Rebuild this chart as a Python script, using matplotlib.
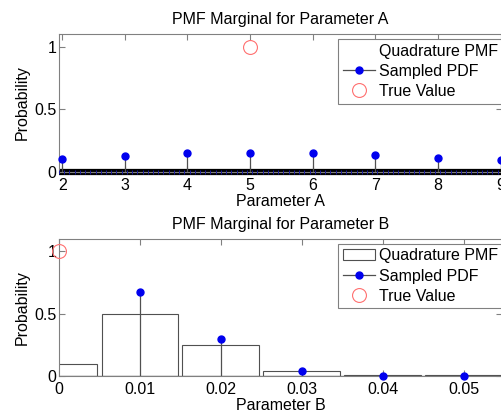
import matplotlib.pyplot as plt
import matplotlib.patches as mpatches
from matplotlib.lines import Line2D
import numpy as np

plt.rcParams['font.family'] = ['Liberation Sans', 'DejaVu Sans']
plt.rcParams['font.size'] = 11.5

# parameter A
a_vals = [2, 3, 4, 5, 6, 7, 8, 9]
a_pdf = [0.10, 0.13, 0.15, 0.155, 0.15, 0.135, 0.115, 0.095]
a_true = 5
# quadrature grid for A (all ~0)
a_step = 1.0 / 12
a_quad_x = np.arange(1.95, 9.1, a_step)
a_quad_p = np.zeros(len(a_quad_x))

# parameter B
b_vals = [0.01, 0.02, 0.03, 0.04, 0.05]
b_pdf = [0.67, 0.295, 0.04, 0.003, 0.003]
b_quad_x = [0.0, 0.01, 0.02, 0.03, 0.04, 0.05]
b_quad_p = [0.10, 0.50, 0.25, 0.04, 0.004, 0.004]
b_true = 0.0

GRAY = '#808080'
STEM = '#505050'
FS = 11.5


def style_axes(ax):
    for s in ax.spines.values():
        s.set_color(GRAY)
        s.set_linewidth(0.8)
    ax.tick_params(direction='in', top=True, right=True, color=GRAY,
                   length=4, width=0.8, labelsize=FS)
    ax.tick_params(axis='x', pad=4)
    ax.tick_params(axis='y', pad=2)


fig = plt.figure(figsize=(5.01, 4.18), dpi=100)
ax1 = fig.add_axes([0.1178, 0.5885, 0.884, 0.330])
ax2 = fig.add_axes([0.1178, 0.1005, 0.884, 0.328])

# ---- top
ax1.plot(a_quad_x, a_quad_p, color='k', lw=4.5, solid_capstyle='butt',
         zorder=2, clip_on=False)
ax1.plot(a_quad_x, a_quad_p, ls='none', marker='|', color='#1a1aa0',
         markersize=2.5, markeredgewidth=0.7, zorder=3, clip_on=False)
ax1.vlines(a_vals, 0, a_pdf, color=STEM, lw=0.9, zorder=2)
ax1.plot(a_vals, a_pdf, ls='none', marker='o', color='#0000ee',
         markersize=5, zorder=4, clip_on=False)
ax1.plot([a_true], [1], ls='none', marker='o', mfc='none', mec='#ff7070',
         markersize=10, mew=0.8, zorder=4)
ax1.set_xlim(1.95, 9.02)
ax1.set_ylim(0, 1.1)
ax1.set_xticks(a_vals)
ax1.set_yticks([0, 0.5, 1])
ax1.set_yticklabels(['0', '0.5', '1'])
ax1.set_title('PMF Marginal for Parameter A', fontsize=FS, pad=7)
ax1.set_xlabel('Parameter A', labelpad=1)
ax1.set_ylabel('Probability', labelpad=3)
style_axes(ax1)

h_quad_a = mpatches.Patch(facecolor='white', edgecolor='none')
h_samp = Line2D([], [], color=STEM, lw=0.9, marker='o', markevery=[1],
                markerfacecolor='#0000ee', markeredgecolor='#0000ee',
                markersize=5)
h_true = Line2D([], [], ls='none', marker='o', mfc='none', mec='#ff7070',
                markersize=10, mew=0.8)
leg_kw = dict(loc='upper left', bbox_to_anchor=(0.630, 0.965),
              fancybox=False, framealpha=1, edgecolor=GRAY,
              borderpad=0.3, labelspacing=0.32, handlelength=2.0,
              handletextpad=0.25, borderaxespad=0, fontsize=FS)
leg1 = ax1.legend([h_quad_a, h_samp, h_true],
                  ['Quadrature PMF', 'Sampled PDF', 'True Value'], **leg_kw)
leg1.get_frame().set_linewidth(0.8)

# ---- bottom
ax2.bar(b_quad_x, b_quad_p, width=0.0095, color='white', edgecolor=STEM,
        linewidth=0.8, zorder=2)
ax2.axhline(0, color=STEM, lw=0.9, zorder=2)
ax2.vlines(b_vals, 0, b_pdf, color=STEM, lw=0.9, zorder=3)
ax2.plot(b_vals, b_pdf, ls='none', marker='o', color='#0000ee',
         markersize=5, zorder=4, clip_on=False)
ax2.plot([b_true], [1], ls='none', marker='o', mfc='none', mec='#ff7070',
         markersize=10, mew=0.8, zorder=5, clip_on=False)
ax2.set_xlim(0, 0.0547)
ax2.set_ylim(0, 1.1)
ax2.set_xticks([0, 0.01, 0.02, 0.03, 0.04, 0.05])
ax2.set_xticklabels(['0', '0.01', '0.02', '0.03', '0.04', '0.05'])
ax2.set_yticks([0, 0.5, 1])
ax2.set_yticklabels(['0', '0.5', '1'])
ax2.set_title('PMF Marginal for Parameter B', fontsize=FS, pad=7)
ax2.set_xlabel('Parameter B', labelpad=1)
ax2.set_ylabel('Probability', labelpad=3)
style_axes(ax2)

h_quad_b = mpatches.Patch(facecolor='white', edgecolor=STEM, linewidth=0.8)
leg2 = ax2.legend([h_quad_b, h_samp, h_true],
                  ['Quadrature PMF', 'Sampled PDF', 'True Value'], **leg_kw)
leg2.get_frame().set_linewidth(0.8)

fig.savefig('out.png', dpi=100)
